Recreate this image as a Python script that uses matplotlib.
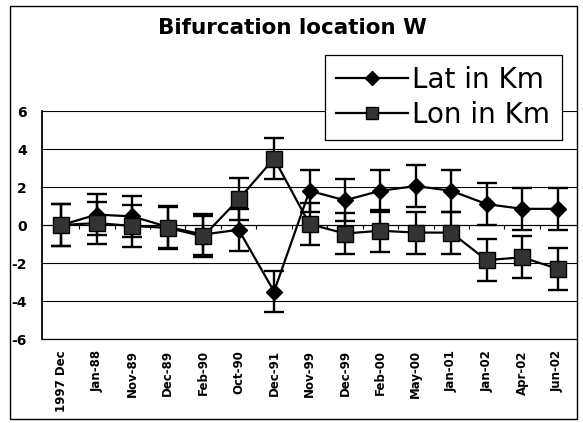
import matplotlib
matplotlib.use("Agg")
import matplotlib.pyplot as plt
from matplotlib.patches import Rectangle

categories = ["1997 Dec", "Jan-88", "Nov-89", "Dec-89", "Feb-90", "Oct-90", "Dec-91",
              "Nov-99", "Dec-99", "Feb-00", "May-00", "Jan-01", "Jan-02", "Apr-02", "Jun-02"]
lat_km = [0.0, 0.55, 0.45, -0.1, -0.5, -0.25, -3.5, 1.8, 1.3, 1.8, 2.05, 1.8, 1.1, 0.85, 0.85]
lon_km = [0.0, 0.1, -0.05, -0.15, -0.6, 1.35, 3.5, 0.05, -0.45, -0.3, -0.4, -0.4, -1.85, -1.7, -2.3]
lat_err = [1.1] * 15
lon_err = [1.1] * 15
y_ticks = [-6, -4, -2, 0, 2, 4, 6]

plt.rcParams['font.family'] = ['DejaVu Sans']

W, H = 583, 423
fig = plt.figure(figsize=(W / 100, H / 100), dpi=100)
fig.patch.set_facecolor('white')

# chart border
fig.add_artist(Rectangle((10 / W, 1 - 419 / H), (577 - 10) / W, (419 - 6) / H,
                         transform=fig.transFigure, fill=False, edgecolor='black', lw=1.0))

ax = fig.add_axes([42 / W, 1 - 339 / H, (577 - 42) / W, (339 - 111) / H])
x = list(range(len(categories)))

ax.set_xlim(-0.55, len(categories) - 0.45)
ax.set_ylim(-6, 6)
ax.set_yticks(y_ticks)
ax.set_yticklabels([str(v) for v in y_ticks], fontsize=10, fontweight='bold')
ax.yaxis.grid(True, color='black', lw=0.8)
ax.axhline(-6, color='black', lw=0.9, clip_on=False, zorder=1)
ax.set_axisbelow(True)
ax.tick_params(axis='y', length=0, pad=11)

for s in ['top', 'right']:
    ax.spines[s].set_visible(False)
ax.spines['left'].set_linewidth(1.3)
ax.spines['bottom'].set_position(('data', 0))
ax.spines['bottom'].set_linewidth(0.8)
ax.set_xticks([i + 0.5 for i in x[:-1]], minor=True)
ax.set_xticks([])
ax.tick_params(axis='x', which='minor', length=3, width=0.8, direction='out')

sec = ax.secondary_xaxis('bottom')
sec.set_xticks(x)
sec.set_xticklabels(categories, rotation=90, fontsize=8.5, fontweight='bold', va='top')
sec.tick_params(length=0, pad=8)
sec.spines['bottom'].set_visible(False)

ax.errorbar(x, lat_km, yerr=lat_err, fmt='none', ecolor='black', elinewidth=1.7,
            capsize=7, capthick=1.7, zorder=3)
ax.errorbar(x, lon_km, yerr=lon_err, fmt='none', ecolor='black', elinewidth=1.7,
            capsize=7, capthick=1.7, zorder=3)
ax.plot(x, lat_km, color='black', lw=1.6, marker='D', markersize=8.5,
        markerfacecolor='black', markeredgecolor='black', label='Lat in Km', zorder=4)
ax.plot(x, lon_km, color='black', lw=1.6, marker='s', markersize=11,
        markerfacecolor='#333333', markeredgecolor='black', label='Lon in Km', zorder=4)

fig.text(292 / W, 1 - 28 / H, 'Bifurcation location W', ha='center', va='center',
         fontsize=15.5, fontweight='bold')

leg = ax.legend(loc='upper left', bbox_to_anchor=(325 / W, 1 - 55 / H),
                bbox_transform=fig.transFigure, fontsize=20, frameon=True, fancybox=False,
                handlelength=2.6, handletextpad=0.15, labelspacing=0.25,
                borderpad=0.4, borderaxespad=0, markerscale=0.85)
leg.get_frame().set_edgecolor('black')
leg.get_frame().set_linewidth(0.9)
leg.get_frame().set_alpha(1)
leg.set_zorder(10)

fig.savefig('out.png', dpi=100, facecolor='white')
